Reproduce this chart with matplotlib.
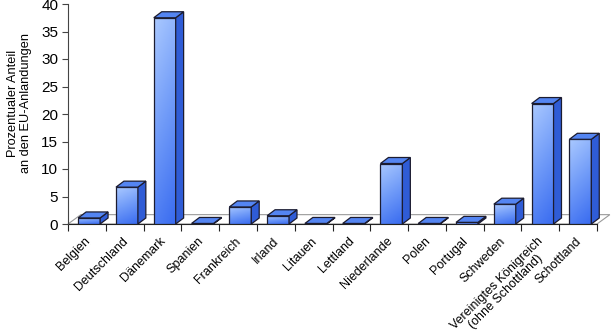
import matplotlib.pyplot as plt
import matplotlib as mpl
import numpy as np
from matplotlib.patches import Polygon
from matplotlib.colors import LinearSegmentedColormap
from matplotlib.transforms import ScaledTranslation

mpl.rcParams["font.family"] = ["Liberation Sans", "DejaVu Sans"]

# data
laender = ['Belgien', 'Deutschland', 'Dänemark', 'Spanien', 'Frankreich', 'Irland',
           'Litauen', 'Lettland', 'Niederlande', 'Polen', 'Portugal', 'Schweden',
           'Vereinigtes Königreich\n(ohne Schottland)', 'Schottland']
anteil = [1.1, 6.7, 37.5, 0.1, 3.1, 1.5, 0.1, 0.1, 11.0, 0.1, 0.3, 3.6, 21.9, 15.4]
y_ticks = [0, 5, 10, 15, 20, 25, 30, 35, 40]

fig = plt.figure(figsize=(6.12, 3.32), dpi=100)
ax = fig.add_axes([68 / 612, 108 / 332, 529 / 612, 220 / 332])

n = len(laender)
bw = 0.58        # front width
off = 0.06       # shift of bar centre
dx, dy = 0.21, 1.09          # bar depth
fdx, fdy = 0.34, 1.7         # floor depth
edge = "#1c1c30"

# floor
floor = Polygon([(0, 0), (n, 0), (n + fdx, fdy), (fdx, fdy)], closed=True,
                facecolor="white", edgecolor="#9a9a9a", lw=0.8, zorder=1, clip_on=False)
ax.add_patch(floor)

front_cmap = LinearSegmentedColormap.from_list("front", ["#3a6cf0", "#6f9af8", "#a9c8ff"])
grad = np.linspace(0, 1, 64).reshape(-1, 1) * 0.8 + np.linspace(0.2, 0, 16).reshape(1, -1)

for i, v in enumerate(anteil):
    x0 = i + 0.5 + off - bw / 2
    x1 = x0 + bw
    ax.imshow(grad, extent=(x0, x1, 0, v), origin="lower", aspect="auto",
              cmap=front_cmap, vmin=0, vmax=1, zorder=3, interpolation="bilinear")
    ax.add_patch(Polygon([(x0, 0), (x1, 0), (x1, v), (x0, v)], closed=True,
                         facecolor="none", edgecolor=edge, lw=0.9, zorder=4))
    # side face
    ax.add_patch(Polygon([(x1, 0), (x1 + dx, dy), (x1 + dx, v + dy), (x1, v)], closed=True,
                         facecolor="#2f5cd6", edgecolor=edge, lw=0.9, zorder=4, clip_on=False))
    # top face
    ax.add_patch(Polygon([(x0, v), (x1, v), (x1 + dx, v + dy), (x0 + dx, v + dy)], closed=True,
                         facecolor="#5485f2", edgecolor=edge, lw=0.9, zorder=5, clip_on=False))

ax.set_xlim(0, n)
ax.set_ylim(0, 40)

for s in ["top", "right"]:
    ax.spines[s].set_visible(False)
ax.spines["left"].set_color("#444444")
ax.spines["bottom"].set_color("#222222")
ax.spines["bottom"].set_zorder(2)

ax.set_yticks(y_ticks)
ax.tick_params(axis="y", direction="out", length=4, color="#444444", labelsize=11, pad=3)
ax.set_xticks(range(n + 1))
ax.set_xticklabels([])
ax.tick_params(axis="x", which="major", direction="out", length=5, color="#222222")
ax.set_xticks([i + 0.5 for i in range(n)], minor=True)
ax.set_xticklabels(laender, minor=True, fontsize=9, rotation=45, ha="right",
                   rotation_mode="anchor", multialignment="center", linespacing=0.95)
ax.tick_params(axis="x", which="minor", length=0, pad=8)
shift = ScaledTranslation(-3 / 100, 0, fig.dpi_scale_trans)
for lab in ax.get_xticklabels(minor=True):
    lab.set_transform(lab.get_transform() + shift)

fig.text(19.5 / 612, 1 - 103 / 332, "Prozentualer Anteil\nan den EU-Anlandungen",
         rotation=90, ha="center", va="center", fontsize=9.2, multialignment="center")

plt.savefig("out.png", dpi=100)
